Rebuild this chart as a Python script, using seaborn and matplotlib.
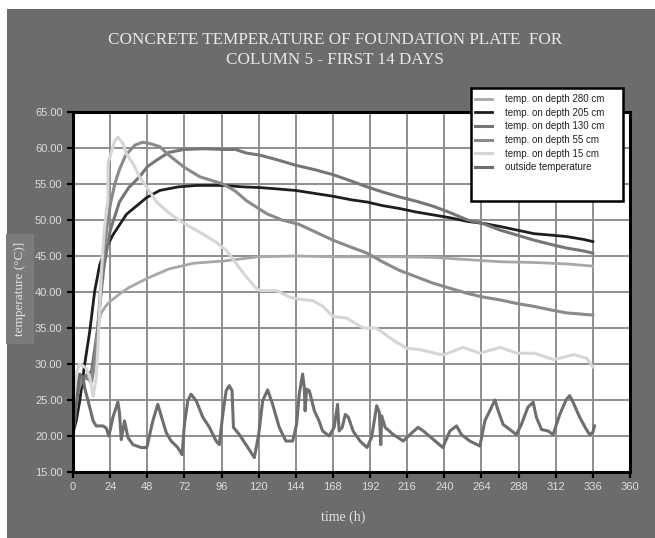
import matplotlib
matplotlib.use("Agg")
import matplotlib.pyplot as plt
from matplotlib.patches import Rectangle
import seaborn as sns
import pandas as pd

# ---------------- data ----------------
h280 = [0, 3, 6, 9, 12, 14, 16, 18, 21, 24, 30, 36, 48, 62, 78, 97, 120, 144, 168, 190,
        210, 233, 255, 276, 298, 319, 336]
t280 = [23.5, 27.5, 28.5, 28, 28.5, 31, 35, 37, 38, 38.7, 39.7, 40.6, 41.9, 43.2, 44, 44.3, 44.9, 45, 44.9, 44.9,
        44.9, 44.8, 44.5, 44.2, 44.1, 43.9, 43.6]

h205 = [0, 2, 4.3, 7.5, 10.8, 14, 17.3, 21.6, 26, 34.6, 47.5, 56, 68, 80, 97, 110, 121, 133, 144, 156,
        168, 180, 190, 200, 211, 222, 233, 244, 255, 266, 276, 287, 298, 309, 319, 330, 336]
t205 = [20.5, 22, 24.8, 29.9, 34.5, 40.1, 43.8, 46.2, 48, 50.8, 53.1, 54.1, 54.6, 54.8, 54.8, 54.6, 54.5, 54.3, 54.1, 53.7,
        53.3, 52.8, 52.5, 52.0, 51.6, 51.1, 50.7, 50.3, 49.8, 49.5, 49.1, 48.6, 48.1, 47.9, 47.7, 47.3, 47]

h130 = [0, 3, 6, 9, 12, 14, 16, 18, 20, 24, 30, 36, 43, 48, 54, 62, 72, 84, 97, 105,
        112, 121, 133, 144, 156, 168, 180, 190, 200, 211, 222, 233, 244, 255, 265, 276, 287, 298, 309, 319,
        330, 336]
t130 = [22, 26, 28, 28.5, 29, 32, 35, 39.5, 43.5, 48.5, 52.5, 54.5, 56, 57.4, 58.3, 59.4, 59.8, 59.9, 59.8, 59.8,
        59.3, 59, 58.3, 57.6, 57, 56.3, 55.4, 54.6, 53.9, 53.2, 52.6, 51.9, 51, 50, 49.5, 48.6, 47.9, 47.2, 46.6, 46.1,
        45.7, 45.4]

h55 = [0, 3, 6, 9, 12, 14, 16, 18, 20, 22, 24, 27, 30, 34, 40, 45, 50, 56, 62, 72,
       82, 97, 105, 112, 125, 135, 146, 155, 168, 180, 190, 200, 211, 222, 233, 244, 255, 265, 276, 287,
       298, 309, 319, 330, 336]
t55 = [21, 26, 28, 28, 27.5, 30, 35, 41, 45.5, 49, 52, 55, 57, 59, 60.4, 60.8, 60.6, 60.2, 59, 57.3,
       56, 55, 54, 52.7, 50.9, 50, 49.4, 48.5, 47.2, 46.2, 45.4, 44.2, 43, 42.1, 41.2, 40.5, 39.8, 39.3, 38.9, 38.4,
       38, 37.5, 37.1, 36.9, 36.8]

h15 = [0, 1, 2, 4, 6, 8.6, 11, 13, 15, 16.5, 18.4, 20, 21.6, 22.5, 22.7, 24, 27, 29, 32.4, 34.5,
       38.9, 43, 47.5, 54, 62.5, 72, 82, 92.7, 99, 105.6, 112, 118.5, 121, 131.5, 140, 146, 155, 161.5, 168, 176.6,
       187.5, 196, 207, 215.6, 224, 239, 252, 263, 276, 287, 298, 310.7, 323.7, 332, 336]
t15 = [21, 25, 28.5, 30, 29.8, 29.4, 28, 25.5, 28, 34, 43, 48, 51.5, 52.5, 58, 58.8, 61, 61.5, 60.6, 59.2,
       57.8, 56, 54.6, 52.5, 50.9, 49.5, 48.3, 46.9, 45.8, 43.9, 42.1, 40.5, 40.2, 40.2, 39.3, 39, 38.8, 38, 36.6, 36.4,
       35, 35, 33.3, 32.2, 32, 31.25, 32.3, 31.5, 32.3, 31.5, 31.5, 30.6, 31.3, 30.8, 29.6]

hout = [0, 2, 4.3, 6.5, 7.5, 8.6, 10.8, 13, 15, 19.4, 21.5, 23.2, 25.8, 29, 30, 31.2, 33.3, 35.5, 38.7, 44,
        47.7, 51.6, 54.8, 57, 60.2, 63.4, 67.7, 70.5, 72, 74.2, 76.3, 79.6, 83.9, 88.2, 92.5, 94.6, 96.8, 99, 101, 102.8,
        103.7, 107.5, 111.8, 117.2, 120, 122.6, 125.8, 129, 133.3, 137.6, 142, 144.5, 146.2, 148.4, 149.5, 150, 151, 152.7, 156, 159,
        161.3, 165.6, 168.8, 171, 172, 174, 176, 178, 181, 185.5, 190, 193, 196.3, 198, 198.9, 199.5, 201.7, 207, 213.5, 217.8,
        223, 226.4, 233, 239, 243.6, 247.9, 251, 256.5, 263, 266.2, 270.5, 272.7, 274.8, 278, 282.3, 286.6, 289.8, 294, 297.4, 299.5,
        302.8, 307, 310.3, 314.6, 318.9, 321, 323.2, 327.5, 331.8, 334, 336, 337]
tout = [20.2, 24, 28.6, 28.1, 26.7, 25.8, 24, 22.1, 21.4, 21.4, 21.1, 20, 22.6, 24.7, 23.3, 19.5, 22.1, 19.8, 18.8, 18.4,
        18.4, 22.1, 24.4, 22.8, 20.5, 19.3, 18.4, 17.4, 21.6, 24.9, 25.8, 24.9, 22.6, 21.2, 19.3, 18.8, 23, 26.3, 27, 26.3,
        21.2, 20.2, 18.8, 17, 20.2, 24.9, 26.4, 24.4, 21.2, 19.3, 19.3, 21.6, 25.8, 28.6, 26.7, 23.5, 26.5, 26.3, 23.5, 22.1,
        20.7, 20, 21.2, 24.4, 20.7, 21.2, 23, 22.6, 20.7, 19.3, 18.4, 19.8, 24.2, 23.3, 18.8, 22.8, 21.2, 20.2, 19.3, 20.2,
        21.2, 20.7, 19.5, 18.4, 20.7, 21.4, 20.2, 19.3, 18.6, 22.1, 24, 25, 23.5, 21.6, 20.9, 20.2, 21.6, 24, 24.7, 22.6,
        20.9, 20.7, 20.2, 23, 25.1, 25.6, 24.7, 22.6, 20.9, 20.2, 20.5, 21.4]

labels = ["temp. on depth 280 cm", "temp. on depth 205 cm", "temp. on depth 130 cm",
          "temp. on depth 55 cm", "temp. on depth 15 cm", "outside temperature"]
xticks = list(range(0, 361, 24))
yticks = list(range(15, 66, 5))
title = "CONCRETE TEMPERATURE OF FOUNDATION PLATE  FOR\nCOLUMN 5 - FIRST 14 DAYS"

series = [(h280, t280), (h205, t205), (h130, t130), (h55, t55), (h15, t15), (hout, tout)]
colors = ["#a8a8a8", "#1e1e1e", "#767676", "#8a8a8a", "#d6d6d6", "#6e6e6e"]
widths = [2.0, 2.0, 2.2, 2.2, 2.2, 2.2]

# ---------------- figure ----------------
W, H = 655, 538
BG = "#6c6c6c"
fig = plt.figure(figsize=(W / 100, H / 100), dpi=100, facecolor="white")
fig.patches.append(Rectangle((7 / W, -0.1), 1.2, 1.1 - 9 / H, transform=fig.transFigure,
                             facecolor=BG, edgecolor="none", zorder=-10))

L, R, T, B = 73, 630, 112, 472
ax = fig.add_axes([L / W, 1 - B / H, (R - L) / W, (B - T) / H])
ax.set_facecolor("white")

for (hx, ty), lab, c, lw in zip(series, labels, colors, widths):
    df = pd.DataFrame({"time": hx, "temp": ty})
    sns.lineplot(data=df, x="time", y="temp", ax=ax, color=c, lw=lw, label=lab,
                 sort=False, estimator=None)

ax.set_xlim(0, 360)
ax.set_ylim(15, 65)
ax.set_xticks(xticks)
ax.set_yticks(yticks)
ax.set_yticklabels([f"{v:.2f}" for v in yticks])
ax.grid(True, color="#8e8e8e", lw=1.4)
ax.set_axisbelow(True)
for s in ax.spines.values():
    s.set_color("black")
    s.set_linewidth(2.2)
ax.tick_params(axis="both", direction="out", length=4, width=1.6, color="black",
               labelcolor="#dcdcdc", labelsize=8)
for lbl in ax.get_xticklabels() + ax.get_yticklabels():
    lbl.set_family("Liberation Sans")

ax.set_xlabel("time (h)", family="Liberation Serif", fontsize=10, color="#e2e2e2", va="center")
ax.xaxis.set_label_coords((343 - L) / (R - L), -(517 - B) / (B - T))
ax.set_ylabel("temperature (°C)]", family="Liberation Serif", fontsize=9.5, color="#e2e2e2",
              va="center", bbox=dict(facecolor="#7b7b7b", edgecolor="none", pad=6))
ax.yaxis.set_label_coords(-(L - 20) / (R - L), (B - 289) / (B - T))

fig.text(335 / W, 1 - 50 / H, title, ha="center", va="center", family="Liberation Serif",
         fontsize=12.3, color="#e8e8e8", linespacing=1.25)

# legend box
handles, labs = ax.get_legend_handles_labels()
ax.get_legend().remove()
fig.patches.append(Rectangle((471 / W, 1 - 201 / H), 152 / W, 113 / H, transform=fig.transFigure,
                             facecolor="white", edgecolor="black", lw=1.8, zorder=5))
leg = fig.legend(handles, labs, loc="upper left", bbox_to_anchor=(474 / W, 1 - 93 / H),
                 frameon=False, handlelength=1.8, handletextpad=1.3,
                 labelspacing=0.38, borderaxespad=0, borderpad=0.1,
                 prop={"family": "Liberation Sans", "size": 7})
leg.set_zorder(10)
for txt in leg.get_texts():
    txt.set_color("#222222")

fig.savefig("out.png", dpi=100, facecolor=fig.get_facecolor())
